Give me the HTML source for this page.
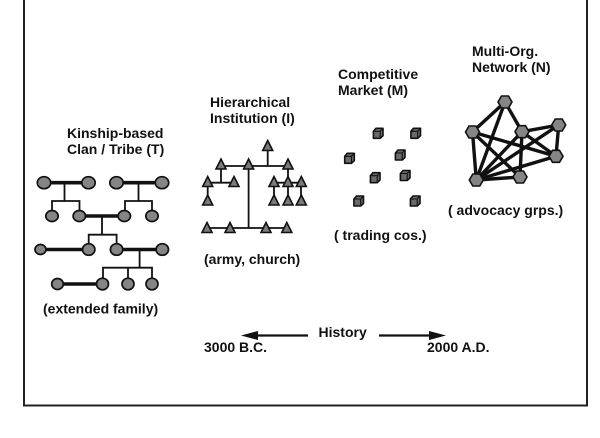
<!DOCTYPE html>
<html>
<head>
<meta charset="utf-8">
<style>
  html, body { margin: 0; padding: 0; background: #fff; }
  body { width: 600px; height: 438px; overflow: hidden; }
  svg { display: block; }
  text { font-family: "Liberation Sans", Arial, sans-serif; font-weight: bold; font-size: 14px; fill: #111; }
</style>
</head>
<body>
<svg width="600" height="438" viewBox="0 0 600 438" xmlns="http://www.w3.org/2000/svg">
  <!-- frame -->
  <path d="M24,0 L24,405.5 L587,405.5 L587,0" fill="none" stroke="#222" stroke-width="2"/>

  <!-- ===== Kinship ===== -->
  <text x="67" y="138">Kinship-based</text>
  <text x="67" y="154">Clan / Tribe (T)</text>

  <g stroke="#111" fill="none">
    <g stroke-width="3.6">
      <line x1="50" y1="182.7" x2="82" y2="182.7"/>
      <line x1="122" y1="182.7" x2="156" y2="182.7"/>
      <line x1="85" y1="216" x2="118" y2="216"/>
      <line x1="46" y1="249.5" x2="82" y2="249.5"/>
      <line x1="122" y1="249.5" x2="156" y2="249.5"/>
      <line x1="63" y1="284" x2="97" y2="284"/>
    </g>
    <g stroke-width="1.8">
      <path d="M64.5,182.7 V201 M52,210 V201 H79.5 V210"/>
      <path d="M138.5,182.7 V201 M125,210 V201 H152 V210"/>
      <path d="M102,216 V234.7 M88.7,244 V234.7 H116.6 V244"/>
      <path d="M139.6,249.5 V267.7 M103,278 V267.7 H152 V278 M128,267.7 V278"/>
    </g>
  </g>
  <g fill="#858585" stroke="#111" stroke-width="1.7">
    <ellipse cx="44" cy="182.7" rx="6.7" ry="6"/>
    <ellipse cx="88.5" cy="182.7" rx="6.7" ry="6"/>
    <ellipse cx="116.5" cy="182.7" rx="6.7" ry="6"/>
    <ellipse cx="162" cy="182.7" rx="6.7" ry="6"/>

    <ellipse cx="52" cy="216" rx="6.2" ry="5.5"/>
    <ellipse cx="79.3" cy="216" rx="6.2" ry="5.5"/>
    <ellipse cx="124.3" cy="216" rx="6.2" ry="5.5"/>
    <ellipse cx="152" cy="216" rx="6.2" ry="5.5"/>

    <ellipse cx="40.5" cy="249.5" rx="5.5" ry="5"/>
    <ellipse cx="88.7" cy="249.5" rx="6.2" ry="5.8"/>
    <ellipse cx="116.6" cy="249.5" rx="6.2" ry="5.8"/>
    <ellipse cx="162.3" cy="249.5" rx="6.2" ry="5.8"/>

    <ellipse cx="57.5" cy="284" rx="5.8" ry="5.5"/>
    <ellipse cx="102.5" cy="284" rx="6" ry="5.8"/>
    <ellipse cx="128" cy="284" rx="6" ry="5.8"/>
    <ellipse cx="152" cy="284" rx="6" ry="5.8"/>
  </g>
  <text x="43" y="313.5">(extended family)</text>

  <!-- ===== Hierarchical ===== -->
  <text x="210" y="107">Hierarchical</text>
  <text x="210" y="123">Institution (I)</text>

  <g stroke="#111" stroke-width="1.8" fill="none">
    <path d="M267.7,148 V166 M221,166 H288"/>
    <path d="M248.6,166 V228"/>
    <path d="M207,228 H287"/>
    <path d="M221,166 V182.7 M207.7,182.7 H234 M207.7,182.7 V201"/>
    <path d="M288,166 V182.7 M274,182.7 H301 M274,182.7 V201 M288,182.7 V201 M301,182.7 V201"/>
  </g>
  <defs>
    <polygon id="tri" points="0,-6 5,4 -5,4" fill="#7a7a7a" stroke="#111" stroke-width="1.6" stroke-linejoin="miter"/>
  </defs>
  <use href="#tri" x="267.7" y="146.5"/>
  <use href="#tri" x="221" y="165"/>
  <use href="#tri" x="248.6" y="165"/>
  <use href="#tri" x="288" y="165"/>

  <use href="#tri" x="207.7" y="182.5"/>
  <use href="#tri" x="234" y="182.5"/>
  <use href="#tri" x="274" y="182.5"/>
  <use href="#tri" x="288" y="182.5"/>
  <use href="#tri" x="301.3" y="182.5"/>

  <use href="#tri" x="207.7" y="201"/>
  <use href="#tri" x="274" y="201"/>
  <use href="#tri" x="288" y="201"/>
  <use href="#tri" x="301.3" y="201"/>

  <use href="#tri" x="207" y="228.5"/>
  <use href="#tri" x="230" y="228.5"/>
  <use href="#tri" x="266" y="228.5"/>
  <use href="#tri" x="286.8" y="228.5"/>

  <text x="204" y="264">(army, church)</text>

  <!-- ===== Market ===== -->
  <text x="338" y="79">Competitive</text>
  <text x="338" y="95">Market (M)</text>

  <defs>
    <g id="cube">
      <path d="M-4.6,-2 L-2,-5 L5,-5 L5,2.4 L2.2,5 L-4.6,5 Z" fill="#6a6a6a" stroke="#111" stroke-width="1.6" stroke-linejoin="round"/>
      <path d="M-4.6,-2 L2.2,-2 L5,-5 M2.2,-2 L2.2,5" fill="none" stroke="#111" stroke-width="1.1"/>
    </g>
  </defs>
  <use href="#cube" x="378" y="133.3"/>
  <use href="#cube" x="415.5" y="133.3"/>
  <use href="#cube" x="349.3" y="158.3"/>
  <use href="#cube" x="400" y="155"/>
  <use href="#cube" x="375" y="177.7"/>
  <use href="#cube" x="405" y="175.5"/>
  <use href="#cube" x="358.5" y="201"/>
  <use href="#cube" x="415" y="201"/>

  <text x="334" y="240">( trading cos.)</text>

  <!-- ===== Network ===== -->
  <text x="472" y="56">Multi-Org.</text>
  <text x="472" y="72">Network (N)</text>

  <g stroke="#111" stroke-width="3.4" stroke-linecap="round">
    <line x1="505" y1="102" x2="472.5" y2="132"/>
    <line x1="505" y1="102" x2="476.3" y2="180"/>
    <line x1="505" y1="102" x2="522" y2="131.7"/>
    <line x1="472.5" y1="132" x2="476.3" y2="180"/>
    <line x1="472.5" y1="132" x2="556" y2="156.3"/>
    <line x1="472.5" y1="132" x2="520" y2="177"/>
    <line x1="522" y1="131.7" x2="558.7" y2="125"/>
    <line x1="522" y1="131.7" x2="520" y2="177"/>
    <line x1="522" y1="131.7" x2="476.3" y2="180"/>
    <line x1="522" y1="131.7" x2="556" y2="156.3"/>
    <line x1="558.7" y1="125" x2="556" y2="156.3"/>
    <line x1="558.7" y1="125" x2="476.3" y2="180"/>
    <line x1="476.3" y1="180" x2="556" y2="156.3"/>
    <line x1="476.3" y1="180" x2="520" y2="177"/>
  </g>
  <defs>
    <polygon id="hex" points="7,0 3.5,6 -3.5,6 -7,0 -3.5,-6 3.5,-6" fill="#858585" stroke="#111" stroke-width="1.6"/>
  </defs>
  <use href="#hex" x="505" y="102"/>
  <use href="#hex" x="472.5" y="132"/>
  <use href="#hex" x="522" y="131.7"/>
  <use href="#hex" x="558.7" y="125"/>
  <use href="#hex" x="556" y="156.3"/>
  <use href="#hex" x="520" y="177"/>
  <use href="#hex" x="476.3" y="180"/>

  <text x="448" y="215">( advocacy grps.)</text>

  <!-- ===== Timeline ===== -->
  <text x="318.5" y="337">History</text>
  <g stroke="#111" stroke-width="2.2">
    <line x1="308" y1="335.5" x2="255" y2="335.5"/>
    <line x1="379" y1="335.5" x2="431" y2="335.5"/>
  </g>
  <polygon points="241,335.5 258,331 258,340" fill="#111"/>
  <polygon points="446,335.5 429,331 429,340" fill="#111"/>
  <text x="204" y="352">3000 B.C.</text>
  <text x="427" y="352">2000 A.D.</text>
</svg>
</body>
</html>
